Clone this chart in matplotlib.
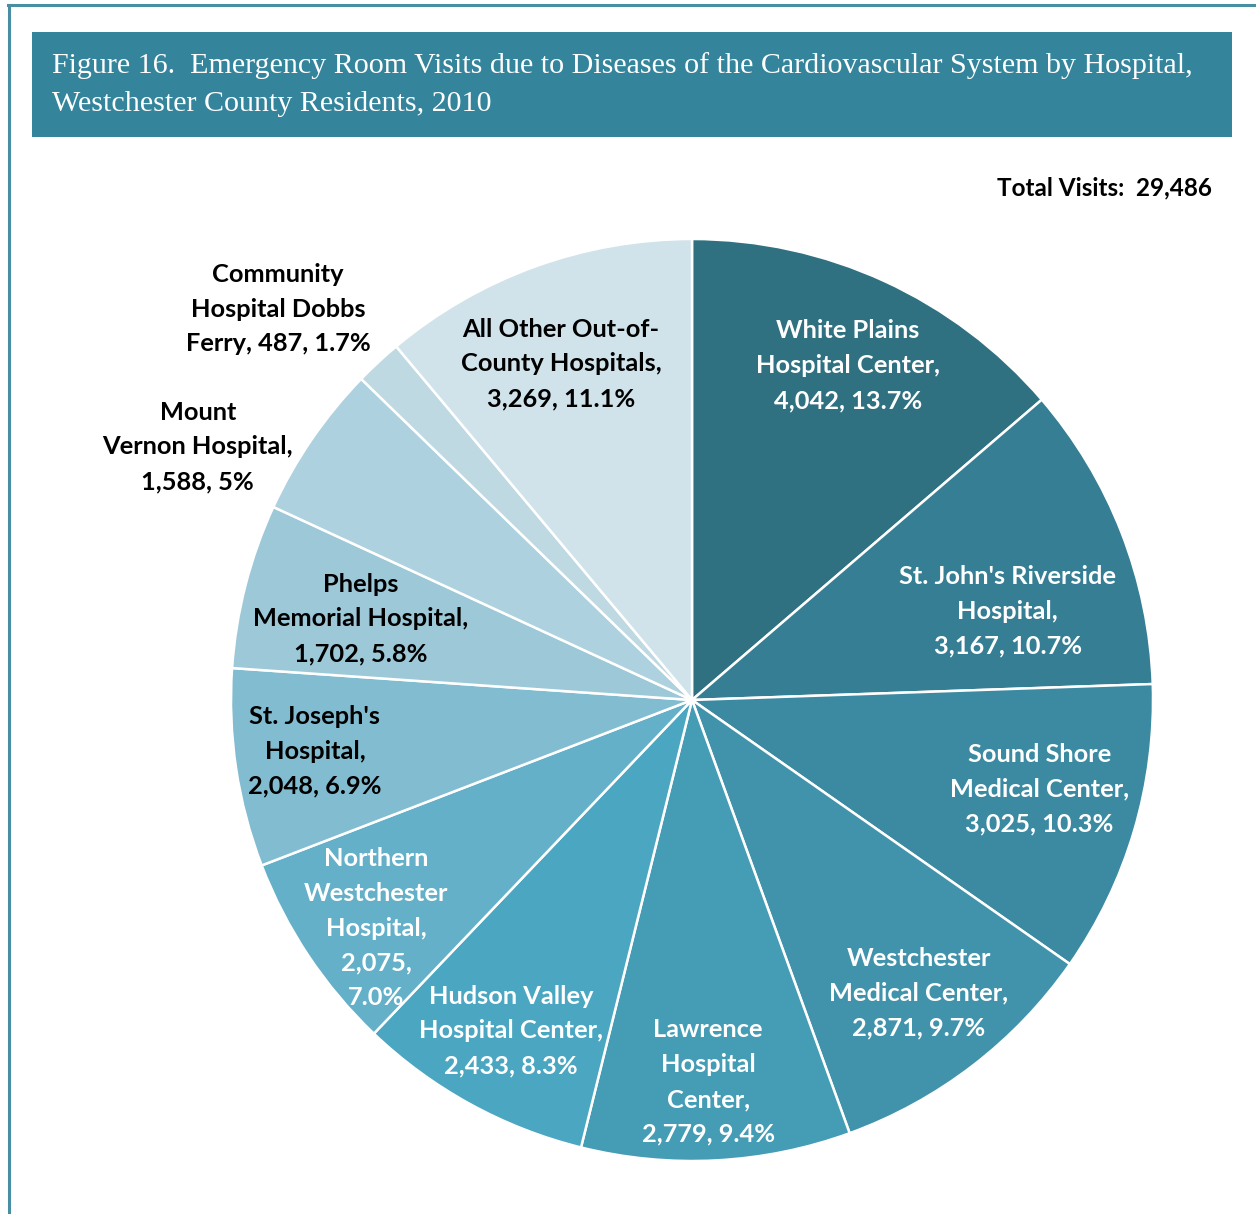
import matplotlib
matplotlib.use("Agg")
import matplotlib.pyplot as plt
from matplotlib.patches import Rectangle
from matplotlib.lines import Line2D

# ---- data ----
hospitals = [
    "White Plains\nHospital Center,",
    "St. John's Riverside\nHospital,",
    "Sound Shore\nMedical Center,",
    "Westchester\nMedical Center,",
    "Lawrence\nHospital\nCenter,",
    "Hudson Valley\nHospital Center,",
    "Northern\nWestchester\nHospital,",
    "St. Joseph's\nHospital,",
    "Phelps\nMemorial Hospital,",
    "Mount\nVernon Hospital,",
    "Community\nHospital Dobbs\nFerry,",
    "All Other Out-of-\nCounty Hospitals,",
]
visits = [4042, 3167, 3025, 2871, 2779, 2433, 2075, 2048, 1702, 1588, 487, 3269]
percents = ["13.7%", "10.7%", "10.3%", "9.7%", "9.4%", "8.3%", "7.0%", "6.9%",
            "5.8%", "5%", "1.7%", "11.1%"]
total_visits = 29486

# ---- styles ----
colors = ["#2f7081", "#357e93", "#3b8aa1", "#4193ab", "#459cb5", "#4aa6c1",
          "#64b0c8", "#82bcd0", "#9cc8d8", "#aed1df", "#bfd9e3", "#d0e3ea"]
text_colors = ["white"] * 7 + ["black"] * 5
# separators: between name and value, between value and percent
name_sep = ["\n"] * 10 + [" ", "\n"]
value_sep = [" "] * 6 + ["\n"] + [" "] * 5
# label centres in pie-radius units
label_xy = [(0.338, 0.725), (0.685, 0.193), (0.753, -0.193), (0.492, -0.636),
            (0.035, -0.829), (-0.393, -0.718), (-0.685, -0.495), (-0.818, -0.111),
            (-0.718, 0.176), (-1.072, 0.549), (-0.898, 0.848), (-0.284, 0.729)]

W, H = 1256, 1214
fig = plt.figure(figsize=(W / 100, H / 100), dpi=100)
fig.patch.set_facecolor("white")

# frame lines (top and left)
fig.add_artist(Line2D([8 / W, 1], [1 - 5 / H, 1 - 5 / H], color="#4a8ea3", lw=2.2,
                      transform=fig.transFigure))
fig.add_artist(Line2D([9 / W, 9 / W], [0, 1 - 5 / H], color="#4a8ea3", lw=2.2,
                      transform=fig.transFigure))

# title bar
fig.add_artist(Rectangle((32 / W, 1 - 137 / H), 1200 / W, 105 / H,
                         facecolor="#34849c", edgecolor="none", transform=fig.transFigure))
fig.text(52 / W, 1 - 66 / H,
         "Figure 16.  Emergency Room Visits due to Diseases of the Cardiovascular System by Hospital,",
         color="white", fontsize=21.6, family="Liberation Serif", va="center", ha="left")
fig.text(52 / W, 1 - 104 / H, "Westchester County Residents, 2010",
         color="white", fontsize=21.6, family="Liberation Serif", va="center", ha="left")

fig.text(1212 / W, 1 - 188 / H, f"Total Visits:  {total_visits:,}", fontsize=17.5,
         fontweight="bold", family="Lato", ha="right", va="center", color="black")

# pie axes
cx, cy, R = 692, 700, 461
ax = fig.add_axes([(cx - R) / W, (H - cy - R) / H, 2 * R / W, 2 * R / H])
ax.pie(visits, colors=colors, startangle=90, counterclock=False, radius=1,
       wedgeprops=dict(edgecolor="white", linewidth=1.8))
ax.set_xlim(-1, 1)
ax.set_ylim(-1, 1)
ax.set_aspect("equal")
ax.axis("off")

for name, v, p, tc, ns, vs, (lx, ly) in zip(hospitals, visits, percents, text_colors,
                                            name_sep, value_sep, label_xy):
    label = f"{name}{ns}{v:,},{vs}{p}"
    ax.text(lx, ly, label, ha="center", va="center", color=tc, fontsize=18.3,
            fontweight="bold", family="Lato", linespacing=1.62)

fig.savefig("out.png", dpi=100)
